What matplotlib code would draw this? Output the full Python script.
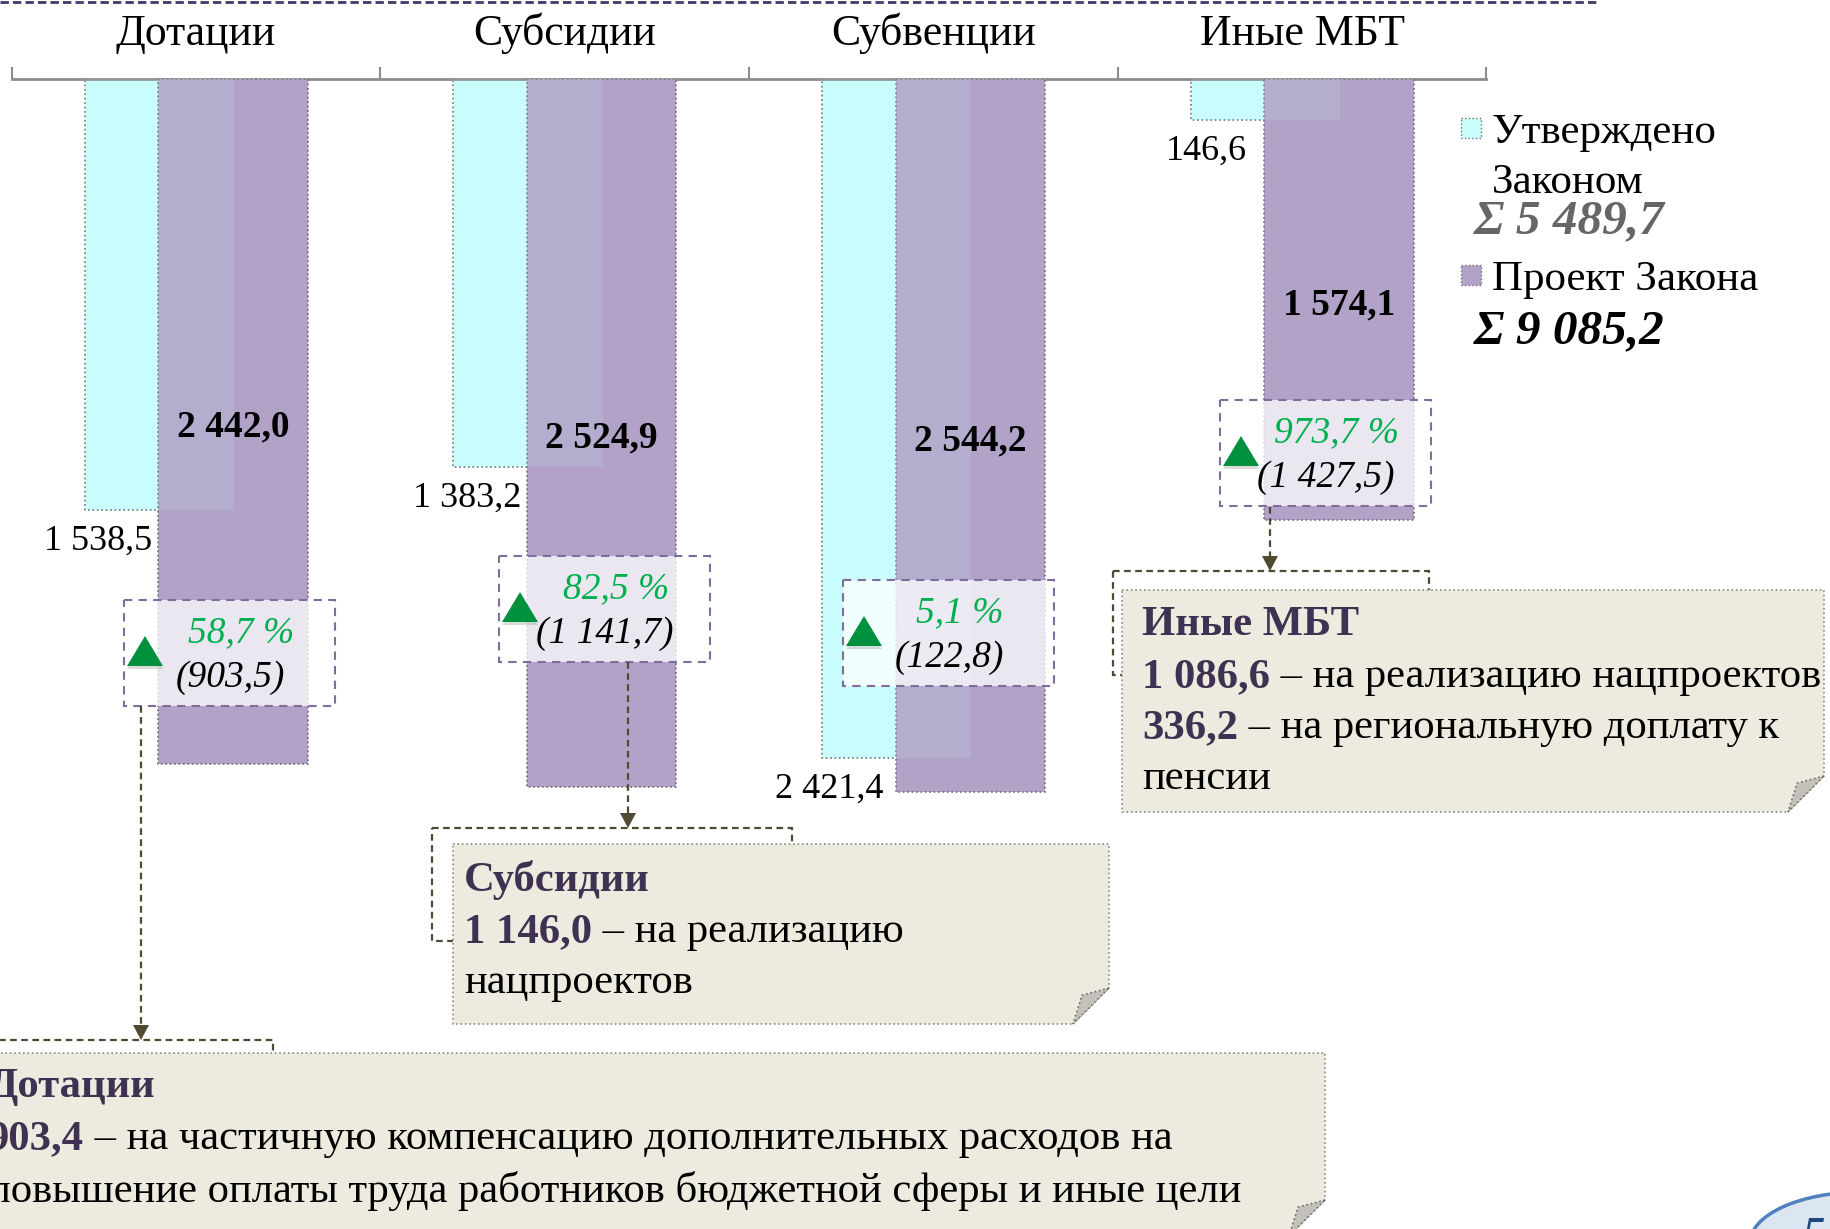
import matplotlib
matplotlib.use("Agg")
import matplotlib.pyplot as plt
from matplotlib.patches import Rectangle, Polygon, Ellipse
import numpy as np

plt.rcParams["font.family"] = ["Liberation Serif", "DejaVu Serif"]

# --- data (млн руб.) ---
categories = ["Дотации", "Субсидии", "Субвенции", "Иные МБТ"]
approved = [1538.5, 1383.2, 2421.4, 146.6]   # Утверждено Законом
draft = [2442.0, 2524.9, 2544.2, 1574.1]     # Проект Закона
approved_total = "Σ 5 489,7"
draft_total = "Σ 9 085,2"

note_titles = ["Дотации", "Субсидии", "Иные МБТ"]
note_lines = [
    [("903,4", " – на частичную компенсацию дополнительных расходов на"),
     ("", "повышение оплаты труда работников бюджетной сферы и иные цели")],
    [("1 146,0", " – на реализацию"),
     ("", "нацпроектов")],
    [("1 086,6", " – на реализацию нацпроектов"),
     ("336,2", " – на региональную доплату к"),
     ("", "пенсии")],
]


def fmt(v):
    return f"{v:,.1f}".replace(",", " ").replace(".", ",")


CYAN = "#C9FCFC"
PURPLE = "#B2A2C7"
GREEN = "#00913F"
GREEN_TXT = "#00B050"
OLIVE = "#4F4A32"
DARK_PURPLE = "#3F3151"
BEIGE = "#EDEAE0"

W, H = 1831, 1229
fig = plt.figure(figsize=(W / 100, H / 100), dpi=100)

# bar axes, y grows downward from the top axis line
AX_TOP = 79.4
PX_PER_UNIT = 0.2802
YMAX = 3000
ax_left, ax_right = 11.7, 1486.5
ax_h = YMAX * PX_PER_UNIT
ax = fig.add_axes([ax_left / W, 1 - (AX_TOP + ax_h) / H,
                   (ax_right - ax_left) / W, ax_h / H])
ax.set_xlim(-0.5, 3.5)
ax.set_ylim(YMAX, 0)

x = np.arange(len(categories))
bw, off = 0.405, 0.1
ax.bar(x - off, approved, bw, color=CYAN, edgecolor="#6E6E6E",
       linewidth=1.2, linestyle=":", zorder=2)
ax.bar(x + off, draft, bw, color=PURPLE, edgecolor="#6E6E6E",
       linewidth=1.2, linestyle=":", zorder=3)
ax.bar(x - off, approved, bw, color=CYAN, alpha=0.13, linewidth=0, zorder=4)

label_gap = [6, 6, 12, 17]  # horizontal gap of the approved labels, px
for i in x:
    ax.annotate(fmt(approved[i]), xy=(i + off - bw / 2, approved[i]),
                xytext=(-label_gap[i], -31), textcoords="offset pixels",
                ha="right", va="center", fontsize=26)
    ax.annotate(fmt(draft[i]), xy=(i + off, draft[i] / 2), xytext=(0, -5),
                textcoords="offset pixels", ha="center", va="center",
                fontsize=27, fontweight="bold", zorder=5)

for s in ["left", "right", "bottom"]:
    ax.spines[s].set_visible(False)
ax.spines["top"].set_color("#8C8C8C")
ax.spines["top"].set_linewidth(2)
ax.set_yticks([])
ax.xaxis.set_ticks_position("top")
ax.set_xticks(x)
ax.set_xticklabels(categories, fontsize=31.5)
ax.set_xticks(np.arange(-0.5, 4), minor=True)
ax.tick_params(axis="x", which="major", length=0, pad=18)
ax.tick_params(axis="x", which="minor", length=9, width=1.5,
               color="#8C8C8C", direction="out")
ax.patch.set_alpha(0)

# --- annotation layer in pixel coordinates ---
ov = fig.add_axes([0, 0, 1, 1], zorder=5)
ov.set_xlim(0, W)
ov.set_ylim(H, 0)
ov.axis("off")

ov.plot([0, 1600], [2, 2], color="#3F3A68", lw=2, ls=(0, (3, 1.5)))

# growth boxes
pct = [(d / a - 1) * 100 for a, d in zip(approved, draft)]
diff = [d - a for a, d in zip(approved, draft)]
box_pos = [(124, 600), (499, 556), (843, 580), (1220, 400)]
BOX_W, BOX_H = 211, 106
for (bx, by), p, d in zip(box_pos, pct, diff):
    ov.add_patch(Rectangle((bx, by), BOX_W, BOX_H, facecolor=(1, 1, 1, 0.75),
                           edgecolor="#7E6E9E", lw=1.5, ls=(0, (4, 3))))
    cx = bx + 21
    ov.add_patch(Polygon([(cx - 18, by + 69), (cx + 18, by + 69), (cx, by + 41)],
                         closed=True, color="#9A9A9A", alpha=0.35, lw=0))
    ov.add_patch(Polygon([(cx - 18, by + 66), (cx + 18, by + 66), (cx, by + 36)],
                         closed=True, color=GREEN, lw=0))
    ov.text(bx + 117, by + 33, f"{p:.1f} %".replace(".", ","), color=GREEN_TXT,
            style="italic", fontsize=27, ha="center", va="center")
    ov.text(bx + 106, by + 78, f"({fmt(d)})", style="italic", fontsize=27,
            ha="center", va="center")


def connector(xc, y0, y1):
    ov.plot([xc, xc], [y0, y1 - 14], color=OLIVE, lw=1.6, ls=(0, (3, 2)))
    ov.add_patch(Polygon([(xc - 8, y1 - 15), (xc + 8, y1 - 15), (xc, y1)],
                         closed=True, color=OLIVE, lw=0))


def note_box(x0, y0, x1, y1, fold=36):
    ov.add_patch(Polygon([(x0, y0), (x1, y0), (x1, y1 - fold), (x1 - fold, y1), (x0, y1)],
                         closed=True, facecolor=BEIGE, edgecolor="#8C8C80",
                         lw=1.2, ls=":", zorder=3))
    ov.add_patch(Polygon([(x1, y1 - fold), (x1 - fold * 0.75, y1 - fold * 0.8),
                          (x1 - fold, y1)], closed=True, facecolor="#C3C1BA",
                         edgecolor="#6E6E66", lw=1.2, ls=":", zorder=3))


# (dashed bracket, box, arrow x, arrow start y, text x, line y's)
notes_layout = [
    ((-40, 1040, 273, 1150), (-30, 1053, 1325, 1236), 141, 706, -12, [1087, 1139, 1191]),
    ((432, 828, 792, 941), (453, 844, 1109, 1024), 628, 662, 464, [880, 932, 983]),
    ((1113, 571, 1429, 675), (1122, 590, 1824, 812), 1270, 507, 1142, [625, 677, 728, 779]),
]

NOTE_FS = 30.7
for title, lines, (br, bx, ax_x, ay0, tx, ys) in zip(note_titles, note_lines, notes_layout):
    ov.add_patch(Rectangle((br[0], br[1]), br[2] - br[0], br[3] - br[1],
                           facecolor="none", edgecolor=OLIVE, lw=1.6,
                           ls=(0, (3, 2)), zorder=2))
    connector(ax_x, ay0, br[1])
    note_box(*bx)
    ov.text(tx, ys[0], title, fontsize=NOTE_FS, fontweight="bold", color=DARK_PURPLE,
            ha="left", va="center", zorder=4)
    for (num, rest), yy in zip(lines, ys[1:]):
        if num:
            t = ov.text(tx, yy, num, fontsize=NOTE_FS, fontweight="bold",
                        color=DARK_PURPLE, ha="left", va="center", zorder=4)
            ov.annotate(rest, xy=(1, 0), xycoords=t, ha="left", va="bottom",
                        fontsize=NOTE_FS, color="black", zorder=4)
        else:
            ov.text(tx, yy, rest, fontsize=NOTE_FS, color="black", ha="left",
                    va="center", zorder=4)

# legend
ov.add_patch(Rectangle((1461, 118), 20, 20, facecolor=CYAN, edgecolor="#6E6E6E",
                       lw=1, ls=":"))
ov.text(1492, 133, "Утверждено", fontsize=31, ha="left", va="center")
ov.text(1492, 183, "Законом", fontsize=31, ha="left", va="center")
ov.text(1474, 221, approved_total, fontsize=35.5, fontweight="bold", style="italic",
        color="#666666", ha="left", va="center")
ov.add_patch(Rectangle((1461, 265), 20, 20, facecolor=PURPLE, edgecolor="#6E6E6E",
                       lw=1, ls=":"))
ov.text(1492, 280, "Проект Закона", fontsize=31, ha="left", va="center")
ov.text(1474, 331, draft_total, fontsize=35.5, fontweight="bold", style="italic",
        color="black", ha="left", va="center")

# page number badge
ov.add_patch(Ellipse((1862, 1243), 224, 102, facecolor="#DCE6F2",
                     edgecolor="#4F81BD", lw=2.5))
ov.text(1803, 1216, "5", fontsize=32, fontweight="bold", style="italic",
        color="#1F497D", ha="left", va="top")

fig.savefig("out.png", dpi=100)
